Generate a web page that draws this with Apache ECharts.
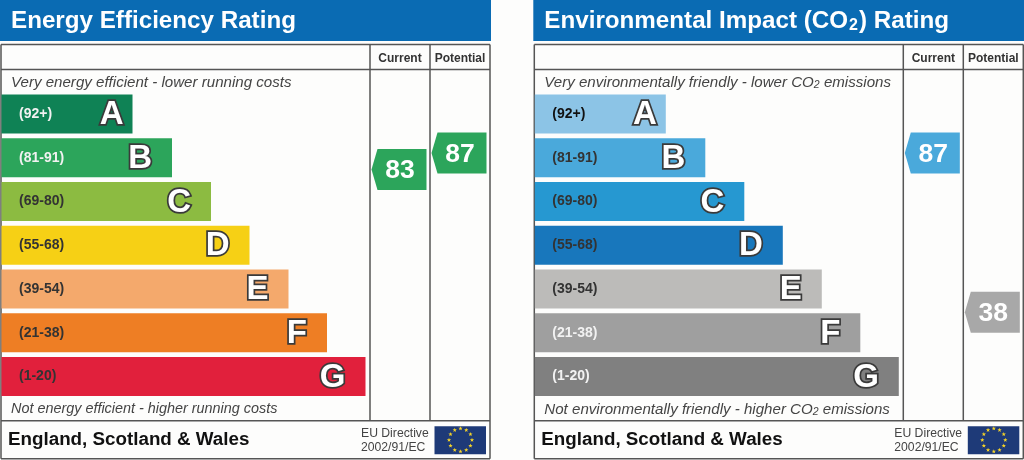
<!DOCTYPE html>
<html><head><meta charset="utf-8">
<style>html,body{margin:0;padding:0;background:#fdfdfc}#c{width:1024px;height:460px}</style>
<script src="https://cdn.jsdelivr.net/npm/echarts@6/dist/echarts.min.js"></script>
</head><body><div id="c"></div>
<script>
const letters = ['A','B','C','D','E','F','G'];
const ranges = ['(92+)','(81-91)','(69-80)','(55-68)','(39-54)','(21-38)','(1-20)'];
const columns = ['Current','Potential'];
const bandLengths = [131,170.5,209.5,248,287,325.5,364];
const energyColors = ['#0f8255','#2ca55b','#8cbb41','#f6d015','#f4a96c','#ee7e24','#e1203c'];
const co2Colors = ['#8cc4e6','#4aa9db','#2698d1','#1877bc','#bcbbb9','#9f9f9f','#808080'];
const energyRangeColors = ['#f2f2f2','#f2f2f2','#333','#333','#333','#333','#333'];
const co2RangeColors = ['#111','#333','#333','#333','#333','#f2f2f2','#f2f2f2'];
const energyRatings = [['Current',83,1.77,'#2ca55b'],['Potential',87,1.39,'#2ca55b']];
const co2Ratings = [['Current',87,1.39,'#4aa9db'],['Potential',38,5.03,'#a8a8a8']];
const FONT = '"Liberation Sans", Arial, sans-serif';
const LINE = '#555';
const chart = echarts.init(document.getElementById('c'));
const grid=[],xAxis=[],yAxis=[],series=[],graphic=[];

function line(x1,y1,x2,y2,w){graphic.push({type:'line',z:1,shape:{x1,y1,x2,y2},style:{stroke:LINE,lineWidth:w||1.5}});}
function text(x,y,t,font,fill,rich,align){graphic.push({type:'text',z:3,x,y,style:{text:t,font,fill,rich,verticalAlign:'middle',align:align||'left'}});}

function panel(ox,headW,titleRich,topText,bottomText,bottomSize,colors,rangeColors,ratings){
  const idx=grid.length;
  graphic.push({type:'rect',z:1,shape:{x:ox,y:0,width:headW,height:41},style:{fill:'#0a6bb3'}});
  text(ox+11,21,titleRich,'bold 24.2px '+FONT,'#fff',{
    a:{font:'bold 24.2px '+FONT,fill:'#fff',verticalAlign:'middle'},
    s:{font:'bold 16px '+FONT,fill:'#fff',padding:[9,1,0,1]}});
  // frame
  const L=ox+1,R=ox+490;
  line(L,44.5,R,44.5); line(L,69.5,R,69.5); line(L,420.7,R,420.7); line(L,458.7,R,458.7);
  line(L,44.5,L,458.7); line(R,44.5,R,458.7);
  line(ox+370,44.5,ox+370,420.7); line(ox+430,44.5,ox+430,420.7);
  const rich={a:{font:'italic 15.1px '+FONT,fill:'#444'},s:{font:'italic 10.5px '+FONT,fill:'#444',padding:[6,0,0,0]}};
  text(ox+11,82.3,topText,'italic 15.1px '+FONT,'#444',rich);
  text(ox+11,409.3,bottomText,'italic '+bottomSize+'px '+FONT,'#444',rich);
  text(ox+8,440,'England, Scotland & Wales','bold 18.8px '+FONT,'#111');
  text(ox+361,433.5,'EU Directive','12.2px '+FONT,'#444');
  text(ox+361,447.5,'2002/91/EC','12.2px '+FONT,'#444');
  // flag
  const fx=ox+460.5,fy=440;
  graphic.push({type:'rect',z:2,shape:{x:ox+434.5,y:426.3,width:51.5,height:28},style:{fill:'#1e3a78'}});
  for(let k=0;k<12;k++){
    const a=k*Math.PI/6, cx=fx+11.5*Math.sin(a), cy=fy-11.5*Math.cos(a), pts=[];
    for(let j=0;j<10;j++){const r=j%2?0.95:2.3,b=j*Math.PI/5;pts.push([cx+r*Math.sin(b),cy-r*Math.cos(b)]);}
    graphic.push({type:'polygon',z:3,shape:{points:pts},style:{fill:'#f5d327'}});
  }
  // band chart
  grid.push({left:ox+1.5,top:92.2,width:369,height:306.1});
  xAxis.push({gridIndex:idx,type:'value',min:0,max:369,show:false});
  yAxis.push({gridIndex:idx,type:'category',inverse:true,data:ranges,z:6,
    axisLine:{show:false},axisTick:{show:false},splitLine:{show:false},
    axisLabel:{inside:true,margin:17.5,fontFamily:FONT,fontSize:14,fontWeight:'bold',
      color:(v,i)=>rangeColors[i]}});
  series.push({type:'bar',xAxisIndex:idx,yAxisIndex:idx,barWidth:39,silent:true,
    data:bandLengths.map((v,i)=>({value:v,itemStyle:{color:colors[i]},
      label:{show:true,position:'insideRight',distance:i===0?9:20,formatter:letters[i],offset:[0,1],
        fontFamily:FONT,fontSize:33,fontWeight:'bold',color:'#fff',
        textBorderColor:'#3a3a3a',textBorderWidth:3.5}}))});
  // rating columns
  grid.push({left:ox+370,top:92.2,width:120,height:306.1});
  xAxis.push({gridIndex:idx+1,type:'category',position:'top',data:columns,
    axisLine:{show:false},axisTick:{show:false},
    axisLabel:{margin:28,fontFamily:FONT,fontSize:12,fontWeight:'bold',color:'#333',interval:0}});
  yAxis.push({gridIndex:idx+1,type:'value',inverse:true,min:0,max:7,show:false});
  series.push({type:'scatter',xAxisIndex:idx+1,yAxisIndex:idx+1,silent:true,z:4,
    symbol:'path://M6 0H55V41H6L0 20.5Z',symbolSize:[55,41],symbolOffset:[-1,0],
    data:ratings.map(r=>({value:[r[0],r[2]],itemStyle:{color:r[3],opacity:1},
      label:{show:true,position:'inside',offset:[1,1.5],formatter:String(r[1]),fontFamily:FONT,
        fontSize:26.5,fontWeight:'bold',color:'#fff'}}))});
}

panel(0,491,'Energy Efficiency Rating','Very energy efficient - lower running costs','Not energy efficient - higher running costs',14.4,
  energyColors,energyRangeColors,energyRatings);
panel(533.3,491,'{a|Environmental Impact (CO}{s|2}{a|) Rating}',
  '{a|Very environmentally friendly - lower CO}{s|2}{a| emissions}',
  '{a|Not environmentally friendly - higher CO}{s|2}{a| emissions}',15.1,
  co2Colors,co2RangeColors,co2Ratings);

chart.setOption({animation:false,backgroundColor:'#fdfdfc',grid,xAxis,yAxis,series,graphic:{elements:graphic}});
</script></body></html>
